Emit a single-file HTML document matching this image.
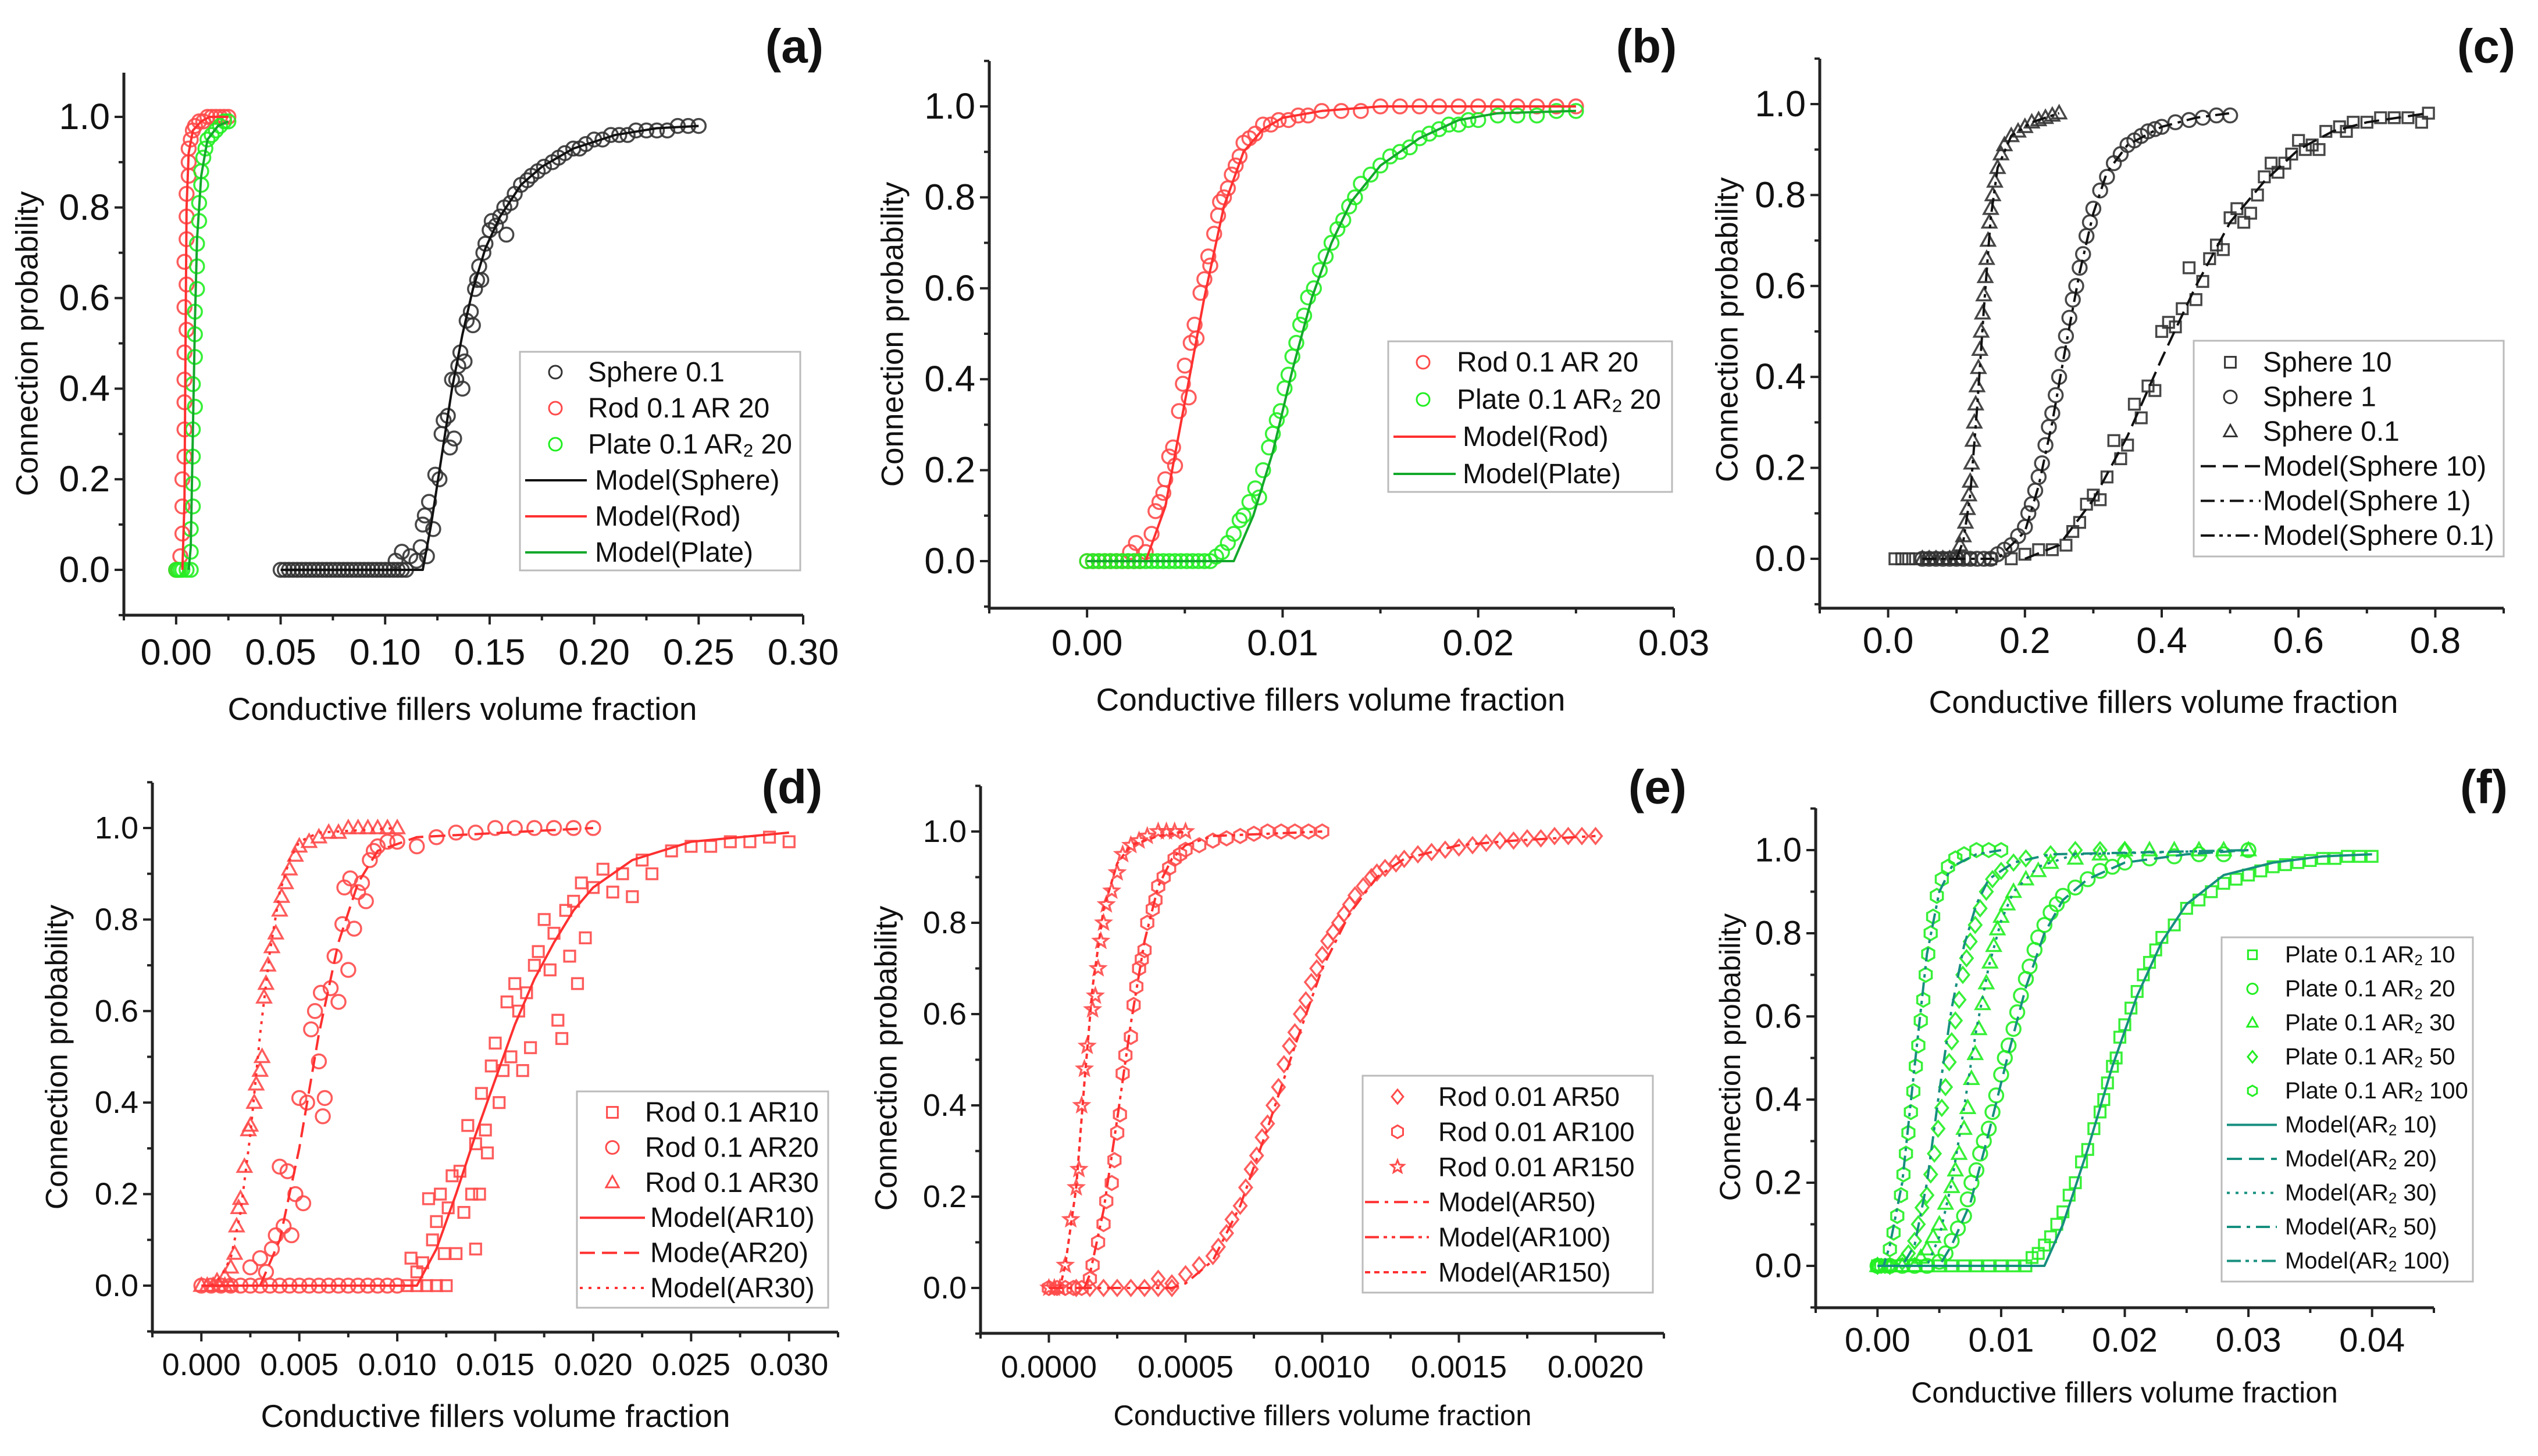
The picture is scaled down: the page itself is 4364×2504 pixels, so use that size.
<!DOCTYPE html>
<html><head><meta charset="utf-8"><title>Connection probability panels</title>
<style>
html,body{margin:0;padding:0;background:#fff;}
svg{display:block;font-family:"Liberation Sans",Arial,sans-serif;}
</style></head>
<body>
<svg id="fig" width="4364" height="2504" viewBox="0 0 4364 2504" xmlns="http://www.w3.org/2000/svg"></svg>
<script>
// ===== DATA =====
// Panel (a)
const aSphereData=[[0.050,0],[0.052,0],[0.054,0],[0.056,0],[0.058,0],[0.060,0],[0.062,0],[0.064,0],[0.066,0],[0.068,0],[0.070,0],[0.072,0],[0.074,0],[0.076,0],[0.078,0],[0.080,0],[0.082,0],[0.084,0],[0.086,0],[0.088,0],[0.090,0],[0.092,0],[0.094,0],[0.096,0],[0.098,0],[0.100,0],[0.102,0],[0.104,0],[0.106,0],[0.108,0],[0.110,0],[0.105,0.02],[0.108,0.04],[0.112,0.03],[0.115,0.02],[0.117,0.05],[0.118,0.10],[0.119,0.12],[0.120,0.03],[0.121,0.15],[0.123,0.09],[0.124,0.21],[0.126,0.20],[0.127,0.30],[0.128,0.33],[0.130,0.34],[0.131,0.27],[0.132,0.42],[0.133,0.29],[0.134,0.42],[0.135,0.45],[0.136,0.48],[0.137,0.40],[0.138,0.46],[0.139,0.55],[0.141,0.57],[0.142,0.54],[0.143,0.62],[0.144,0.64],[0.145,0.67],[0.146,0.64],[0.147,0.70],[0.148,0.72],[0.150,0.75],[0.151,0.77],[0.153,0.76],[0.155,0.78],[0.157,0.80],[0.158,0.74],[0.160,0.81],[0.162,0.83],[0.165,0.85],[0.168,0.86],[0.170,0.87],[0.173,0.88],[0.176,0.89],[0.180,0.90],[0.183,0.91],[0.186,0.92],[0.190,0.93],[0.193,0.93],[0.196,0.94],[0.200,0.95],[0.204,0.95],[0.208,0.96],[0.212,0.96],[0.216,0.96],[0.220,0.97],[0.225,0.97],[0.230,0.97],[0.235,0.97],[0.240,0.98],[0.245,0.98],[0.250,0.98]];
const aSphereModel=[[0.05,0],[0.118,0],[0.122,0.1],[0.127,0.25],[0.132,0.40],[0.137,0.52],[0.142,0.62],[0.148,0.71],[0.155,0.78],[0.165,0.85],[0.175,0.89],[0.19,0.93],[0.21,0.96],[0.23,0.975],[0.25,0.98]];
const aRodData=[[0,0],[0.001,0],[0.002,0.03],[0.003,0.08],[0.003,0.14],[0.003,0.20],[0.004,0.25],[0.004,0.31],[0.004,0.37],[0.004,0.42],[0.004,0.48],[0.005,0.53],[0.004,0.58],[0.005,0.63],[0.004,0.68],[0.005,0.73],[0.005,0.78],[0.005,0.83],[0.006,0.87],[0.006,0.90],[0.006,0.93],[0.007,0.95],[0.008,0.97],[0.009,0.98],[0.011,0.99],[0.013,0.99],[0.015,1.0],[0.017,1.0],[0.019,1.0],[0.021,1.0],[0.023,1.0],[0.025,1.0]];
const aRodModel=[[0.003,0],[0.004,0.15],[0.0045,0.5],[0.005,0.8],[0.006,0.92],[0.008,0.97],[0.012,0.99],[0.016,1.0],[0.025,1.0]];
const aPlateData=[[0,0],[0.001,0],[0.002,0],[0.003,0],[0.005,0],[0.007,0],[0.007,0.04],[0.007,0.09],[0.008,0.14],[0.008,0.19],[0.008,0.25],[0.008,0.31],[0.009,0.36],[0.008,0.41],[0.009,0.47],[0.009,0.52],[0.009,0.57],[0.010,0.62],[0.010,0.67],[0.010,0.72],[0.011,0.77],[0.011,0.81],[0.012,0.85],[0.012,0.88],[0.013,0.91],[0.014,0.93],[0.015,0.95],[0.017,0.96],[0.019,0.97],[0.021,0.98],[0.023,0.99],[0.025,0.99]];
const aPlateModel=[[0.006,0],[0.007,0.05],[0.008,0.3],[0.009,0.55],[0.010,0.73],[0.012,0.87],[0.015,0.95],[0.020,0.98],[0.025,0.99]];
// Panel (b)
const bRodData=[[0,0],[0.0003,0],[0.0006,0],[0.0009,0],[0.0012,0],[0.0015,0],[0.0018,0],[0.0021,0],[0.0024,0],[0.0027,0],[0.0022,0.02],[0.0025,0.04],[0.003,0.02],[0.0033,0.06],[0.0035,0.11],[0.0037,0.13],[0.0039,0.15],[0.004,0.18],[0.0042,0.23],[0.0044,0.25],[0.0045,0.21],[0.0047,0.33],[0.0049,0.39],[0.005,0.43],[0.0052,0.36],[0.0053,0.48],[0.0055,0.52],[0.0056,0.49],[0.0058,0.59],[0.006,0.62],[0.0062,0.67],[0.0063,0.65],[0.0065,0.72],[0.0067,0.76],[0.0068,0.79],[0.007,0.80],[0.0072,0.82],[0.0074,0.85],[0.0076,0.87],[0.0078,0.89],[0.008,0.92],[0.0083,0.93],[0.0086,0.94],[0.009,0.96],[0.0094,0.96],[0.0098,0.97],[0.0103,0.97],[0.0108,0.98],[0.0113,0.98],[0.012,0.99],[0.013,0.99],[0.014,0.99],[0.015,1.0],[0.016,1.0],[0.017,1.0],[0.018,1.0],[0.019,1.0],[0.02,1.0],[0.021,1.0],[0.022,1.0],[0.023,1.0],[0.024,1.0],[0.025,1.0]];
const bRodModel=[[0,0],[0.003,0],[0.004,0.12],[0.005,0.35],[0.006,0.58],[0.007,0.78],[0.008,0.9],[0.009,0.95],[0.010,0.975],[0.012,0.99],[0.015,1.0],[0.025,1.0]];
const bPlateData=[[0,0],[0.0003,0],[0.0006,0],[0.0009,0],[0.0012,0],[0.0015,0],[0.0018,0],[0.0021,0],[0.0024,0],[0.0027,0],[0.003,0],[0.0033,0],[0.0036,0],[0.0039,0],[0.0042,0],[0.0045,0],[0.0048,0],[0.0051,0],[0.0054,0],[0.0057,0],[0.006,0],[0.0063,0],[0.0066,0.01],[0.0069,0.02],[0.0072,0.04],[0.0075,0.06],[0.0078,0.09],[0.008,0.1],[0.0083,0.13],[0.0086,0.16],[0.0088,0.14],[0.009,0.2],[0.0093,0.25],[0.0095,0.28],[0.0097,0.31],[0.0099,0.33],[0.0101,0.38],[0.0103,0.41],[0.0105,0.45],[0.0107,0.48],[0.0109,0.52],[0.0111,0.54],[0.0113,0.58],[0.0116,0.6],[0.0119,0.64],[0.0122,0.67],[0.0125,0.7],[0.0128,0.73],[0.0131,0.75],[0.0134,0.78],[0.0137,0.8],[0.014,0.83],[0.0145,0.85],[0.015,0.87],[0.0155,0.89],[0.016,0.9],[0.0165,0.91],[0.017,0.93],[0.0175,0.94],[0.018,0.95],[0.0185,0.96],[0.019,0.96],[0.0195,0.97],[0.02,0.97],[0.021,0.98],[0.022,0.98],[0.023,0.98],[0.024,0.99],[0.025,0.99]];
const bPlateModel=[[0,0],[0.0075,0],[0.0085,0.1],[0.0095,0.24],[0.0105,0.42],[0.0115,0.58],[0.0125,0.70],[0.0135,0.79],[0.015,0.87],[0.017,0.93],[0.019,0.97],[0.021,0.985],[0.025,0.99]];
// Panel (c)
const cS10Data=[[0.01,0],[0.02,0],[0.03,0],[0.04,0],[0.06,0],[0.08,0],[0.1,0],[0.12,0],[0.15,0],[0.18,0],[0.2,0.01],[0.22,0.02],[0.24,0.02],[0.26,0.03],[0.27,0.06],[0.28,0.08],[0.29,0.12],[0.30,0.14],[0.31,0.13],[0.32,0.18],[0.33,0.26],[0.34,0.22],[0.35,0.25],[0.36,0.34],[0.37,0.31],[0.38,0.38],[0.39,0.37],[0.40,0.50],[0.41,0.52],[0.42,0.51],[0.43,0.55],[0.44,0.64],[0.45,0.57],[0.46,0.61],[0.47,0.66],[0.48,0.69],[0.49,0.68],[0.50,0.75],[0.51,0.77],[0.52,0.74],[0.53,0.76],[0.54,0.80],[0.55,0.84],[0.56,0.87],[0.57,0.85],[0.58,0.87],[0.59,0.89],[0.60,0.92],[0.61,0.90],[0.62,0.91],[0.63,0.90],[0.64,0.94],[0.66,0.95],[0.67,0.94],[0.68,0.96],[0.70,0.96],[0.72,0.97],[0.74,0.97],[0.76,0.97],[0.78,0.96],[0.79,0.98]];
const cS10Model=[[0.2,0],[0.25,0.03],[0.3,0.13],[0.35,0.27],[0.4,0.44],[0.45,0.60],[0.5,0.74],[0.55,0.83],[0.6,0.90],[0.65,0.94],[0.7,0.96],[0.79,0.98]];
const cS1Data=[[0.05,0],[0.06,0],[0.07,0],[0.08,0],[0.09,0],[0.1,0],[0.11,0],[0.12,0],[0.13,0],[0.14,0],[0.15,0],[0.16,0.01],[0.17,0.02],[0.18,0.03],[0.19,0.05],[0.2,0.07],[0.205,0.1],[0.21,0.12],[0.215,0.15],[0.22,0.18],[0.225,0.21],[0.23,0.25],[0.235,0.29],[0.24,0.32],[0.245,0.36],[0.25,0.40],[0.255,0.45],[0.26,0.49],[0.265,0.53],[0.27,0.57],[0.275,0.60],[0.28,0.64],[0.285,0.67],[0.29,0.71],[0.295,0.74],[0.30,0.77],[0.31,0.81],[0.32,0.84],[0.33,0.87],[0.34,0.89],[0.35,0.91],[0.36,0.92],[0.37,0.93],[0.38,0.94],[0.39,0.945],[0.40,0.95],[0.42,0.96],[0.44,0.965],[0.46,0.97],[0.48,0.975],[0.50,0.975]];
const cS1Model=[[0.05,0],[0.16,0],[0.2,0.06],[0.22,0.16],[0.24,0.30],[0.26,0.47],[0.28,0.63],[0.30,0.76],[0.32,0.85],[0.35,0.91],[0.4,0.95],[0.45,0.97],[0.5,0.98]];
const cS01Data=[[0.05,0],[0.06,0],[0.07,0],[0.08,0],[0.09,0],[0.1,0],[0.105,0.03],[0.11,0.05],[0.113,0.08],[0.116,0.11],[0.118,0.14],[0.12,0.17],[0.122,0.21],[0.124,0.26],[0.126,0.30],[0.128,0.34],[0.13,0.38],[0.132,0.42],[0.134,0.46],[0.136,0.50],[0.138,0.54],[0.14,0.58],[0.142,0.62],[0.144,0.66],[0.146,0.70],[0.148,0.74],[0.15,0.77],[0.153,0.80],[0.156,0.83],[0.16,0.86],[0.165,0.89],[0.17,0.91],[0.18,0.93],[0.19,0.94],[0.2,0.95],[0.21,0.96],[0.22,0.965],[0.23,0.97],[0.24,0.975],[0.25,0.98]];
const cS01Model=[[0.05,0],[0.1,0],[0.11,0.04],[0.12,0.14],[0.13,0.33],[0.14,0.55],[0.15,0.75],[0.16,0.86],[0.18,0.93],[0.21,0.96],[0.25,0.98]];
// Panel (d)
const dAR10Data=[[0.0105,0],[0.011,0],[0.0115,0],[0.012,0],[0.0125,0],[0.0107,0.06],[0.011,0.03],[0.0113,0.05],[0.0116,0.19],[0.0118,0.1],[0.012,0.14],[0.0122,0.2],[0.0124,0.07],[0.0126,0.17],[0.0128,0.24],[0.013,0.07],[0.0132,0.25],[0.0134,0.16],[0.0136,0.35],[0.0138,0.2],[0.014,0.08],[0.014,0.31],[0.0142,0.2],[0.0143,0.42],[0.0145,0.34],[0.0146,0.29],[0.0148,0.48],[0.015,0.53],[0.0152,0.4],[0.0154,0.47],[0.0156,0.62],[0.0158,0.5],[0.016,0.66],[0.0162,0.6],[0.0164,0.47],[0.0166,0.64],[0.0168,0.52],[0.017,0.7],[0.0172,0.73],[0.0175,0.8],[0.0178,0.69],[0.018,0.77],[0.0182,0.58],[0.0184,0.54],[0.0186,0.82],[0.0188,0.72],[0.019,0.84],[0.0192,0.66],[0.0194,0.88],[0.0196,0.76],[0.02,0.87],[0.0205,0.91],[0.021,0.86],[0.0215,0.9],[0.022,0.85],[0.0225,0.93],[0.023,0.9],[0.024,0.95],[0.025,0.96],[0.026,0.96],[0.027,0.97],[0.028,0.97],[0.029,0.98],[0.03,0.97]];
const dAR10Model=[[0,0],[0.011,0],[0.012,0.08],[0.013,0.2],[0.014,0.33],[0.015,0.45],[0.016,0.57],[0.017,0.67],[0.018,0.75],[0.019,0.82],[0.020,0.87],[0.022,0.93],[0.025,0.97],[0.030,0.99]];
const dAR20Data=[[0,0],[0.0005,0],[0.001,0],[0.0015,0],[0.002,0],[0.0025,0],[0.003,0],[0.0035,0],[0.004,0],[0.0045,0],[0.005,0],[0.0055,0],[0.006,0],[0.0065,0],[0.007,0],[0.0075,0],[0.008,0],[0.0085,0],[0.009,0],[0.0095,0],[0.010,0],[0.0025,0.04],[0.003,0.06],[0.0033,0.03],[0.0036,0.08],[0.0038,0.11],[0.004,0.26],[0.0042,0.13],[0.0044,0.25],[0.0046,0.11],[0.0048,0.2],[0.005,0.41],[0.0052,0.18],[0.0054,0.4],[0.0056,0.56],[0.0058,0.6],[0.006,0.49],[0.0061,0.64],[0.0062,0.37],[0.0063,0.41],[0.0066,0.65],[0.0068,0.72],[0.007,0.62],[0.0072,0.79],[0.0073,0.87],[0.0075,0.69],[0.0076,0.89],[0.0078,0.78],[0.008,0.86],[0.0082,0.88],[0.0084,0.84],[0.0086,0.93],[0.0088,0.95],[0.009,0.96],[0.0095,0.97],[0.01,0.97],[0.011,0.96],[0.012,0.98],[0.013,0.99],[0.014,0.99],[0.015,1.0],[0.016,1.0],[0.017,1.0],[0.018,1.0],[0.019,1.0],[0.02,1.0]];
const dAR20Model=[[0.003,0],[0.004,0.1],[0.005,0.3],[0.006,0.55],[0.007,0.75],[0.008,0.88],[0.009,0.95],[0.011,0.98],[0.02,1.0]];
const dAR30Data=[[0,0],[0.0003,0],[0.0006,0],[0.0009,0],[0.0012,0],[0.0015,0],[0.0008,0.01],[0.0012,0.02],[0.0015,0.04],[0.0017,0.07],[0.0018,0.13],[0.0019,0.17],[0.002,0.19],[0.0022,0.26],[0.0024,0.34],[0.0025,0.35],[0.0027,0.4],[0.0028,0.44],[0.003,0.47],[0.0031,0.5],[0.0032,0.63],[0.0033,0.66],[0.0034,0.7],[0.0036,0.74],[0.0038,0.77],[0.004,0.82],[0.0041,0.85],[0.0043,0.88],[0.0045,0.91],[0.0048,0.94],[0.005,0.96],[0.0055,0.97],[0.006,0.98],[0.0065,0.99],[0.007,0.99],[0.0075,1.0],[0.008,1.0],[0.0085,1.0],[0.009,1.0],[0.0095,1.0],[0.01,1.0]];
const dAR30Model=[[0.0005,0],[0.001,0.02],[0.0015,0.06],[0.002,0.16],[0.0025,0.33],[0.003,0.55],[0.0035,0.73],[0.004,0.86],[0.0045,0.93],[0.005,0.97],[0.006,0.99],[0.01,1.0]];
// Panel (e)
const eAR50Data=[[0.0001,0],[0.00015,0],[0.0002,0],[0.00025,0],[0.0003,0],[0.00035,0],[0.0004,0],[0.00045,0],[0.0004,0.02],[0.00045,0.01],[0.0005,0.03],[0.00055,0.05],[0.0006,0.07],[0.00062,0.09],[0.00065,0.12],[0.00067,0.15],[0.0007,0.18],[0.00072,0.22],[0.00074,0.26],[0.00076,0.29],[0.00078,0.33],[0.0008,0.36],[0.00082,0.4],[0.00084,0.44],[0.00086,0.49],[0.00088,0.53],[0.0009,0.56],[0.00092,0.6],[0.00094,0.63],[0.00096,0.67],[0.00098,0.7],[0.001,0.73],[0.00102,0.76],[0.00104,0.78],[0.00106,0.8],[0.00108,0.82],[0.0011,0.84],[0.00112,0.86],[0.00115,0.88],[0.00118,0.9],[0.0012,0.91],[0.00123,0.92],[0.00127,0.93],[0.0013,0.94],[0.00135,0.95],[0.0014,0.955],[0.00145,0.96],[0.0015,0.965],[0.00155,0.97],[0.0016,0.975],[0.00165,0.98],[0.0017,0.98],[0.00175,0.985],[0.0018,0.985],[0.00185,0.99],[0.0019,0.99],[0.00195,0.99],[0.002,0.99]];
const eAR50Model=[[0,0],[0.00045,0],[0.0005,0.01],[0.0006,0.06],[0.0007,0.18],[0.0008,0.35],[0.0009,0.53],[0.001,0.70],[0.0011,0.82],[0.0012,0.90],[0.0013,0.94],[0.0015,0.97],[0.0017,0.98],[0.002,0.99]];
const eAR100Data=[[0,0],[0.00003,0],[0.00006,0],[0.00009,0],[0.00012,0],[0.00015,0.02],[0.00016,0.05],[0.00018,0.1],[0.0002,0.14],[0.00021,0.19],[0.00023,0.23],[0.00024,0.28],[0.00025,0.34],[0.00026,0.38],[0.00027,0.47],[0.00028,0.51],[0.0003,0.55],[0.00031,0.62],[0.00032,0.66],[0.00033,0.7],[0.00034,0.72],[0.00035,0.74],[0.00036,0.8],[0.00038,0.83],[0.00039,0.85],[0.0004,0.88],[0.00042,0.9],[0.00044,0.92],[0.00046,0.94],[0.00048,0.95],[0.0005,0.96],[0.00055,0.97],[0.0006,0.98],[0.00065,0.985],[0.0007,0.99],[0.00075,0.995],[0.0008,1.0],[0.00085,1.0],[0.0009,1.0],[0.00095,1.0],[0.001,1.0]];
const eAR100Model=[[0,0],[0.00013,0],[0.00015,0.03],[0.0002,0.17],[0.00025,0.37],[0.0003,0.58],[0.00035,0.76],[0.0004,0.88],[0.00045,0.94],[0.0005,0.97],[0.0006,0.99],[0.001,1.0]];
const eAR150Data=[[0,0],[0.00002,0],[0.00004,0],[0.00006,0.05],[0.00008,0.15],[0.0001,0.22],[0.00011,0.26],[0.00012,0.4],[0.00013,0.48],[0.00014,0.53],[0.00016,0.61],[0.00017,0.64],[0.00018,0.7],[0.00019,0.76],[0.0002,0.8],[0.00021,0.84],[0.00023,0.87],[0.00025,0.91],[0.00027,0.95],[0.0003,0.97],[0.00033,0.98],[0.00036,0.99],[0.0004,1.0],[0.00043,1.0],[0.00046,1.0],[0.0005,1.0]];
const eAR150Model=[[0,0],[0.00004,0],[0.00006,0.05],[0.0001,0.22],[0.00013,0.45],[0.00016,0.66],[0.0002,0.83],[0.00025,0.93],[0.0003,0.97],[0.0004,0.99],[0.0005,1.0]];
// Panel (f)
const fAR10Data=[[0,0],[0.001,0],[0.002,0],[0.003,0],[0.004,0],[0.005,0],[0.006,0],[0.007,0],[0.008,0],[0.009,0],[0.010,0],[0.011,0],[0.012,0],[0.0125,0.02],[0.013,0.03],[0.0135,0.05],[0.014,0.07],[0.0145,0.1],[0.015,0.13],[0.0155,0.17],[0.016,0.2],[0.0165,0.25],[0.017,0.28],[0.0175,0.33],[0.018,0.37],[0.0183,0.4],[0.0186,0.44],[0.019,0.48],[0.0193,0.5],[0.0196,0.55],[0.02,0.58],[0.0205,0.62],[0.021,0.66],[0.0215,0.7],[0.022,0.73],[0.0225,0.76],[0.023,0.79],[0.024,0.82],[0.025,0.86],[0.026,0.88],[0.027,0.9],[0.028,0.92],[0.029,0.93],[0.03,0.94],[0.031,0.95],[0.032,0.96],[0.033,0.965],[0.034,0.97],[0.035,0.975],[0.036,0.98],[0.037,0.98],[0.038,0.985],[0.039,0.985],[0.04,0.985]];
const fAR10Model=[[0,0],[0.0135,0],[0.015,0.1],[0.017,0.28],[0.019,0.48],[0.021,0.65],[0.023,0.78],[0.025,0.87],[0.028,0.94],[0.032,0.97],[0.036,0.985],[0.04,0.99]];
const fAR20Data=[[0,0],[0.001,0],[0.002,0],[0.003,0],[0.004,0],[0.005,0.01],[0.0055,0.03],[0.006,0.06],[0.0065,0.09],[0.007,0.12],[0.0073,0.16],[0.0076,0.2],[0.008,0.23],[0.0083,0.27],[0.0086,0.3],[0.009,0.33],[0.0093,0.37],[0.0096,0.41],[0.01,0.46],[0.0103,0.5],[0.0106,0.53],[0.011,0.57],[0.0113,0.61],[0.0116,0.65],[0.012,0.69],[0.0123,0.72],[0.0127,0.76],[0.013,0.79],[0.0135,0.82],[0.014,0.85],[0.0145,0.87],[0.015,0.89],[0.016,0.91],[0.017,0.93],[0.018,0.95],[0.019,0.96],[0.02,0.97],[0.022,0.98],[0.024,0.985],[0.026,0.99],[0.028,0.99],[0.03,1.0]];
const fAR20Model=[[0,0],[0.005,0],[0.006,0.05],[0.0075,0.15],[0.009,0.32],[0.0105,0.5],[0.012,0.67],[0.0135,0.80],[0.015,0.88],[0.017,0.93],[0.02,0.97],[0.025,0.99],[0.03,1.0]];
const fAR30Data=[[0,0],[0.001,0],[0.002,0],[0.003,0],[0.0035,0.02],[0.004,0.04],[0.0045,0.07],[0.005,0.1],[0.0055,0.15],[0.006,0.19],[0.0063,0.23],[0.0066,0.27],[0.007,0.33],[0.0073,0.38],[0.0076,0.45],[0.0079,0.51],[0.0082,0.57],[0.0085,0.63],[0.0088,0.68],[0.0091,0.73],[0.0094,0.77],[0.0097,0.81],[0.01,0.84],[0.0105,0.87],[0.011,0.9],[0.012,0.93],[0.013,0.95],[0.014,0.97],[0.016,0.98],[0.018,0.99],[0.02,1.0],[0.022,1.0],[0.024,1.0],[0.026,1.0],[0.028,1.0],[0.03,1.0]];
const fAR30Model=[[0,0],[0.004,0],[0.005,0.07],[0.006,0.2],[0.007,0.38],[0.008,0.57],[0.009,0.72],[0.01,0.83],[0.011,0.9],[0.013,0.96],[0.016,0.99],[0.03,1.0]];
const fAR50Data=[[0,0],[0.001,0],[0.002,0.01],[0.0025,0.03],[0.003,0.06],[0.0033,0.1],[0.0036,0.14],[0.004,0.17],[0.0043,0.22],[0.0046,0.27],[0.0049,0.33],[0.0052,0.38],[0.0055,0.43],[0.0058,0.49],[0.006,0.54],[0.0063,0.59],[0.0066,0.64],[0.0069,0.7],[0.0072,0.74],[0.0075,0.78],[0.0079,0.82],[0.0083,0.86],[0.0088,0.9],[0.0093,0.93],[0.01,0.95],[0.011,0.97],[0.012,0.98],[0.014,0.99],[0.016,1.0],[0.018,1.0],[0.02,1.0]];
const fAR50Model=[[0,0],[0.002,0],[0.003,0.05],[0.004,0.2],[0.005,0.42],[0.006,0.62],[0.007,0.77],[0.008,0.87],[0.009,0.93],[0.011,0.97],[0.014,0.99],[0.03,1.0]];
const fAR100Data=[[0,0],[0.0003,0],[0.0006,0],[0.001,0.04],[0.0013,0.08],[0.0016,0.12],[0.0019,0.17],[0.0021,0.22],[0.0023,0.27],[0.0025,0.32],[0.0027,0.37],[0.0029,0.42],[0.0031,0.48],[0.0033,0.53],[0.0035,0.59],[0.0037,0.64],[0.0039,0.7],[0.0041,0.75],[0.0043,0.8],[0.0045,0.84],[0.0048,0.89],[0.0052,0.93],[0.0057,0.96],[0.0063,0.98],[0.007,0.99],[0.008,1.0],[0.009,1.0],[0.01,1.0]];
const fAR100Model=[[0,0],[0.0005,0],[0.001,0.05],[0.002,0.2],[0.003,0.48],[0.004,0.75],[0.005,0.9],[0.006,0.96],[0.008,0.99],[0.01,1.0]];

// Tick label arrays
const yTickLabels=["0.0","0.2","0.4","0.6","0.8","1.0"];
const aXTickLabels=["0.00","0.05","0.10","0.15","0.20","0.25","0.30"];
const bXTickLabels=["0.00","0.01","0.02","0.03"];
const cXTickLabels=["0.0","0.2","0.4","0.6","0.8"];
const dXTickLabels=["0.000","0.005","0.010","0.015","0.020","0.025","0.030"];
const eXTickLabels=["0.0000","0.0005","0.0010","0.0015","0.0020"];
const fXTickLabels=["0.00","0.01","0.02","0.03","0.04"];

// ===== STYLE / LAYOUT =====
const RED='#ff3030', REDM='#ff4a4a', GRN='#22ee22', GRNL='#13a82b', TEAL='#168f7f', BLK='#111';
const DASH={solid:null,dash:'26,12',dashdot:'24,10,6,10',dashdotdot:'24,8,6,8,6,8',dot:'5,10',sdash:'9,7'};
const svg=document.getElementById('fig');
const NS='http://www.w3.org/2000/svg';
function el(tag,attrs,parent){const e=document.createElementNS(NS,tag);for(const k in attrs)e.setAttribute(k,attrs[k]);(parent||svg).appendChild(e);return e;}

function markerPath(shape,cx,cy,s){
  if(shape==='square')return `M${cx-s*0.85},${cy-s*0.85}h${s*1.7}v${s*1.7}h${-s*1.7}z`;
  if(shape==='triangle')return `M${cx},${cy-s*1.05}L${cx+s},${cy+s*0.75}L${cx-s},${cy+s*0.75}z`;
  if(shape==='diamond')return `M${cx},${cy-s*1.1}L${cx+s*0.9},${cy}L${cx},${cy+s*1.1}L${cx-s*0.9},${cy}z`;
  if(shape==='star'){let d='';for(let i=0;i<10;i++){const r=i%2?s*0.45:s*1.05;const a=-Math.PI/2+i*Math.PI/5;d+=(i?'L':'M')+(cx+r*Math.cos(a)).toFixed(1)+','+(cy+r*Math.sin(a)).toFixed(1);}return d+'z';}
  if(shape==='hexagon'){let d='';for(let i=0;i<6;i++){const a=Math.PI/6+i*Math.PI/3;d+=(i?'L':'M')+(cx+s*Math.cos(a)).toFixed(1)+','+(cy+s*Math.sin(a)).toFixed(1);}return d+'z';}
  return `M${cx-s},${cy}a${s},${s} 0 1,0 ${2*s},0a${s},${s} 0 1,0 ${-2*s},0z`;
}

function drawPanel(P){
  const g=el('g',{});
  
  
  const sx=v=>P.left+(v-P.xmin)*(P.right-P.left)/(P.xmax-P.xmin);
  const sy=v=>P.y0-v*(P.y0-P.y1);
  const ax=el('path',{d:`M${P.left},${P.top}V${P.bottom}H${P.right}`,fill:'none',stroke:'#222','stroke-width':5},g);
  
  
  for(let i=-1;i<=11;i++){const v=i/10;const y=sy(v);if(y<P.top-1||y>P.bottom+1)continue;const L=(i%2===0)?16:9;
    el('line',{x1:P.left-L,y1:y,x2:P.left,y2:y,stroke:'#222','stroke-width':4},g);}
  yTickLabels.forEach((t,i)=>{const tx=el('text',{x:P.left-24,y:sy(i*0.2),'font-size':P.tf,'text-anchor':'end','dominant-baseline':'central',fill:'#111'},g);tx.textContent=t;
    
    });
  const nMin=Math.round((P.xmax-P.xmin)/P.minor);
  for(let i=0;i<=nMin;i++){const v=P.xmin+i*P.minor;const k=Math.round(v/P.minor);const L=(k%2===0)?16:9;const x=sx(v);
    el('line',{x1:x,y1:P.bottom,x2:x,y2:P.bottom+L,stroke:'#222','stroke-width':4},g);}
  P.xlabels.forEach((t,i)=>{const tx=el('text',{x:sx(i*P.major),y:P.tly,'font-size':P.tf,'text-anchor':'middle','dominant-baseline':'central',fill:'#111'},g);tx.textContent=t;
    
    });
  const xt=el('text',{x:P.xlx,y:P.xly,'font-size':P.xf,'text-anchor':'middle','dominant-baseline':'central',fill:'#111'},g);xt.textContent='Conductive fillers volume fraction';
  
  
  const yt=el('text',{x:0,y:0,'font-size':P.yf,'text-anchor':'middle','dominant-baseline':'central',fill:'#111',transform:`translate(${P.ylx},${P.yly}) rotate(-90)`},g);yt.textContent='Connection probability';
  
  
  const ti=el('text',{x:P.tx,y:P.ty,'font-size':82,'font-weight':'bold','text-anchor':'middle','dominant-baseline':'central',fill:'#111'},g);ti.textContent='('+P.id+')';
  
  
  P.series.forEach(S=>{
    const sg=el('g',{},g);
    
    
    S.data.forEach(p=>{el('path',{d:markerPath(S.shape,sx(p[0]),sy(p[1]),S.ms||12),fill:'none',stroke:S.mc,'stroke-width':3.5,'stroke-opacity':0.9},sg);});
  });
  P.series.forEach(S=>{
    const d=S.model.map((p,i)=>(i?'L':'M')+sx(p[0]).toFixed(1)+','+sy(p[1]).toFixed(1)).join('');
    const a={d:d,fill:'none',stroke:S.lc,'stroke-width':S.lw||4,'stroke-linejoin':'round'};
    if(DASH[S.dash])a['stroke-dasharray']=DASH[S.dash];
    const ln=el('path',a,g);
    
    
  });
  const L=P.legend;
  const lg=el('g',{},g);
  
  
  el('rect',{x:L.x,y:L.y,width:L.w,height:L.h,fill:'#fff',stroke:'#bbb','stroke-width':3},lg);
  L.rows.forEach((r,i)=>{
    const cy=L.r0+i*L.dy;
    const eg=el('g',{},lg);
    
    
    if(r.shape){el('path',{d:markerPath(r.shape,L.mx,cy,L.ms||11),fill:'none',stroke:r.c,'stroke-width':3},eg);}
    else{const a={x1:L.l1,y1:cy,x2:L.l2,y2:cy,stroke:r.c,'stroke-width':4};if(DASH[r.dash])a['stroke-dasharray']=DASH[r.dash];el('line',a,eg);}
    const tx=el('text',{x:r.shape?L.tx:L.tx2,y:cy,'font-size':L.f,'dominant-baseline':'central',fill:'#111'},eg);
    r.t.forEach(part=>{const ts=el('tspan',{},tx);if(part.sub){ts.setAttribute('font-size',L.f*0.65);ts.setAttribute('dy',L.f*0.22);ts.textContent=part.s;}else{ if(part.up){ts.setAttribute('dy',-L.f*0.22);} ts.textContent=part.s;}});
  });
}
const T=s=>[{s:s}];
const TS=(a,b)=>[{s:a},{s:'2',sub:true},{s:b,up:true}];

drawPanel({id:'a',left:213,right:1381,top:125,bottom:1058,xmin:-0.025,xmax:0.3,y0:980,y1:201,minor:0.025,major:0.05,xlabels:aXTickLabels,tf:63,tly:1122,xlx:795,xly:1219,xf:55,ylx:47,yly:591,yf:53,tx:1366,ty:80,
 series:[{key:'sphere',data:aSphereData,model:aSphereModel,shape:'circle',mc:'#333',lc:BLK,dash:'solid'},
         {key:'rod',data:aRodData,model:aRodModel,shape:'circle',mc:REDM,lc:RED,dash:'solid'},
         {key:'plate',data:aPlateData,model:aPlateModel,shape:'circle',mc:GRN,lc:GRNL,dash:'solid'}],
 legend:{x:894,y:605,w:482,h:376,r0:640,dy:62,mx:955,l1:903,l2:1009,tx:1011,tx2:1023,f:48,
  rows:[{shape:'circle',c:'#333',t:T('Sphere 0.1')},{shape:'circle',c:REDM,t:T('Rod 0.1 AR 20')},{shape:'circle',c:GRN,t:TS('Plate 0.1 AR',' 20')},
        {c:BLK,dash:'solid',t:T('Model(Sphere)')},{c:RED,dash:'solid',t:T('Model(Rod)')},{c:GRNL,dash:'solid',t:T('Model(Plate)')}]}});

drawPanel({id:'b',left:1701,right:2878,top:105,bottom:1046,xmin:-0.005,xmax:0.03,y0:965,y1:183,minor:0.005,major:0.01,xlabels:bXTickLabels,tf:63,tly:1106,xlx:2288,xly:1203,xf:55,ylx:1535,yly:575,yf:53,tx:2831,ty:80,
 series:[{key:'rod',data:bRodData,model:bRodModel,shape:'circle',mc:REDM,lc:RED,dash:'solid'},
         {key:'plate',data:bPlateData,model:bPlateModel,shape:'circle',mc:GRN,lc:GRNL,dash:'solid'}],
 legend:{x:2387,y:587,w:488,h:259,r0:623,dy:64,mx:2447,l1:2396,l2:2503,tx:2505,tx2:2515,f:48,
  rows:[{shape:'circle',c:REDM,t:T('Rod 0.1 AR 20')},{shape:'circle',c:GRN,t:TS('Plate 0.1 AR',' 20')},
        {c:RED,dash:'solid',t:T('Model(Rod)')},{c:GRNL,dash:'solid',t:T('Model(Plate)')}]}});

drawPanel({id:'c',left:3129,right:4305,top:101,bottom:1046,xmin:-0.1,xmax:0.9,y0:961,y1:179,minor:0.1,major:0.2,xlabels:cXTickLabels,tf:63,tly:1102,xlx:3720,xly:1207,xf:55,ylx:2970,yly:567,yf:53,tx:4275,ty:80,
 series:[{key:'sphere-10',data:cS10Data,model:cS10Model,shape:'square',mc:'#333',lc:BLK,dash:'dash',ms:11},
         {key:'sphere-1',data:cS1Data,model:cS1Model,shape:'circle',mc:'#333',lc:BLK,dash:'dashdot'},
         {key:'sphere-0.1',data:cS01Data,model:cS01Model,shape:'triangle',mc:'#333',lc:BLK,dash:'dashdotdot'}],
 legend:{x:3772,y:586,w:533,h:371,r0:623,dy:59.6,mx:3835,l1:3784,l2:3887,tx:3891,tx2:3891,f:48,
  rows:[{shape:'square',c:'#333',t:T('Sphere 10')},{shape:'circle',c:'#333',t:T('Sphere 1')},{shape:'triangle',c:'#333',t:T('Sphere 0.1')},
        {c:BLK,dash:'dash',t:T('Model(Sphere 10)')},{c:BLK,dash:'dashdot',t:T('Model(Sphere 1)')},{c:BLK,dash:'dashdotdot',t:T('Model(Sphere 0.1)')}]}});

drawPanel({id:'d',left:262,right:1441,top:1346,bottom:2291,xmin:-0.0025,xmax:0.0325,y0:2211,y1:1424,minor:0.0025,major:0.005,xlabels:dXTickLabels,tf:54,tly:2347,xlx:852,xly:2435,xf:55,ylx:98,yly:1818,yf:53,tx:1362,ty:1354,
 series:[{key:'ar10',data:dAR10Data,model:dAR10Model,shape:'square',mc:REDM,lc:RED,dash:'solid',ms:11},
         {key:'ar20',data:dAR20Data,model:dAR20Model,shape:'circle',mc:REDM,lc:RED,dash:'dash'},
         {key:'ar30',data:dAR30Data,model:dAR30Model,shape:'triangle',mc:REDM,lc:RED,dash:'dot'}],
 legend:{x:992,y:1877,w:432,h:372,r0:1913,dy:60.4,mx:1053,l1:997,l2:1109,tx:1109,tx2:1118,f:48,
  rows:[{shape:'square',c:REDM,t:T('Rod 0.1 AR10')},{shape:'circle',c:REDM,t:T('Rod 0.1 AR20')},{shape:'triangle',c:REDM,t:T('Rod 0.1 AR30')},
        {c:RED,dash:'solid',t:T('Model(AR10)')},{c:RED,dash:'dash',t:T('Mode(AR20)')},{c:RED,dash:'dot',t:T('Model(AR30)')}]}});

drawPanel({id:'e',left:1686,right:2861,top:1352,bottom:2293,xmin:-0.00025,xmax:0.00225,y0:2215,y1:1430,minor:0.00025,major:0.0005,xlabels:eXTickLabels,tf:54,tly:2351,xlx:2274,xly:2435,xf:49,ylx:1524,yly:1820,yf:53,tx:2850,ty:1354,
 series:[{key:'ar50',data:eAR50Data,model:eAR50Model,shape:'diamond',mc:REDM,lc:RED,dash:'dashdot'},
         {key:'ar100',data:eAR100Data,model:eAR100Model,shape:'hexagon',mc:REDM,lc:RED,dash:'dashdotdot'},
         {key:'ar150',data:eAR150Data,model:eAR150Model,shape:'star',mc:REDM,lc:RED,dash:'sdash'}],
 legend:{x:2343,y:1850,w:499,h:373,r0:1886,dy:60.4,mx:2403,l1:2347,l2:2457,tx:2473,tx2:2473,f:46,
  rows:[{shape:'diamond',c:REDM,t:T('Rod 0.01 AR50')},{shape:'hexagon',c:REDM,t:T('Rod 0.01 AR100')},{shape:'star',c:REDM,t:T('Rod 0.01 AR150')},
        {c:RED,dash:'dashdot',t:T('Model(AR50)')},{c:RED,dash:'dashdotdot',t:T('Model(AR100)')},{c:RED,dash:'sdash',t:T('Model(AR150)')}]}});

drawPanel({id:'f',left:3122,right:4185,top:1390,bottom:2249,xmin:-0.005,xmax:0.045,y0:2177,y1:1462,minor:0.005,major:0.01,xlabels:fXTickLabels,tf:58,tly:2305,xlx:3653,xly:2395,xf:50,ylx:2975,yly:1818,yf:50,tx:4271,ty:1354,
 series:[{key:'ar2-10',data:fAR10Data,model:fAR10Model,shape:'square',mc:GRN,lc:TEAL,dash:'solid',ms:11},
         {key:'ar2-20',data:fAR20Data,model:fAR20Model,shape:'circle',mc:GRN,lc:TEAL,dash:'dash'},
         {key:'ar2-30',data:fAR30Data,model:fAR30Model,shape:'triangle',mc:GRN,lc:TEAL,dash:'dot'},
         {key:'ar2-50',data:fAR50Data,model:fAR50Model,shape:'diamond',mc:GRN,lc:TEAL,dash:'dashdot'},
         {key:'ar2-100',data:fAR100Data,model:fAR100Model,shape:'hexagon',mc:GRN,lc:TEAL,dash:'dashdotdot'}],
 legend:{x:3820,y:1612,w:432,h:592,r0:1642,dy:58.5,mx:3873,l1:3829,l2:3915,tx:3929,tx2:3929,f:40,ms:9,
  rows:[{shape:'square',c:GRN,t:TS('Plate 0.1 AR',' 10')},{shape:'circle',c:GRN,t:TS('Plate 0.1 AR',' 20')},{shape:'triangle',c:GRN,t:TS('Plate 0.1 AR',' 30')},
        {shape:'diamond',c:GRN,t:TS('Plate 0.1 AR',' 50')},{shape:'hexagon',c:GRN,t:TS('Plate 0.1 AR',' 100')},
        {c:TEAL,dash:'solid',t:TS('Model(AR',' 10)')},{c:TEAL,dash:'dash',t:TS('Model(AR',' 20)')},{c:TEAL,dash:'dot',t:TS('Model(AR',' 30)')},
        {c:TEAL,dash:'dashdot',t:TS('Model(AR',' 50)')},{c:TEAL,dash:'dashdotdot',t:TS('Model(AR',' 100)')}]}});
</script>
</body></html>
